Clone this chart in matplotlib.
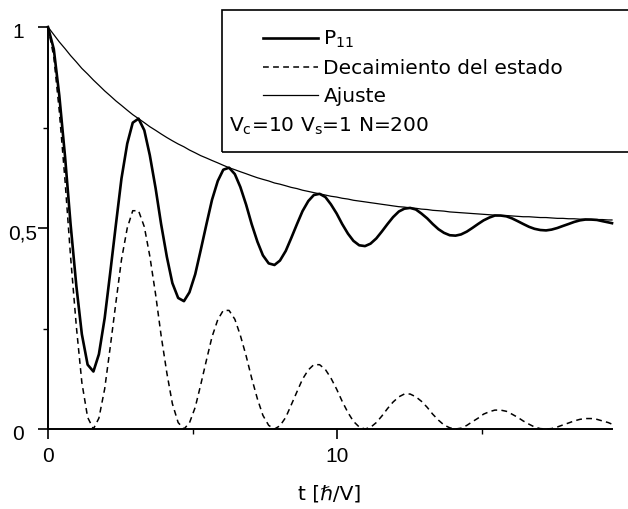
import matplotlib
matplotlib.use("Agg")
import matplotlib.pyplot as plt
from matplotlib.transforms import ScaledTranslation
from matplotlib.patches import Rectangle

plt.rcParams['font.family'] = ['Liberation Sans', 'DejaVu Sans']
plt.rcParams['mathtext.fontset'] = 'custom'
plt.rcParams['mathtext.rm'] = 'DejaVu Sans'
plt.rcParams['mathtext.it'] = 'DejaVu Sans:italic'
plt.rcParams['mathtext.default'] = 'regular'

# ---- data ----
t = [0.00, 0.20, 0.39, 0.59, 0.78, 0.98, 1.17, 1.37, 1.57, 1.76, 1.96, 2.15, 2.35, 2.54, 2.74, 2.93,
     3.13, 3.33, 3.52, 3.72, 3.91, 4.11, 4.30, 4.50, 4.70, 4.89, 5.09, 5.28, 5.48, 5.67, 5.87, 6.06,
     6.26, 6.46, 6.65, 6.85, 7.04, 7.24, 7.43, 7.63, 7.83, 8.02, 8.22, 8.41, 8.61, 8.80, 9.00, 9.19,
     9.39, 9.59, 9.78, 9.98, 10.17, 10.37, 10.56, 10.76, 10.96, 11.15, 11.35, 11.54, 11.74, 11.93, 12.13, 12.32,
     12.52, 12.72, 12.91, 13.11, 13.30, 13.50, 13.69, 13.89, 14.09, 14.28, 14.48, 14.67, 14.87, 15.06, 15.26, 15.45,
     15.65, 15.85, 16.04, 16.24, 16.43, 16.63, 16.82, 17.02, 17.22, 17.41, 17.61, 17.80, 18.00, 18.19, 18.39, 18.58,
     18.78, 18.98, 19.17, 19.37, 19.50]

p11 = [1.000, 0.945, 0.830, 0.677, 0.510, 0.356, 0.236, 0.160, 0.143, 0.186, 0.276, 0.388, 0.510, 0.623, 0.710, 0.762,
       0.772, 0.743, 0.681, 0.599, 0.510, 0.428, 0.363, 0.326, 0.318, 0.340, 0.385, 0.445, 0.510, 0.570, 0.617, 0.645,
       0.650, 0.634, 0.602, 0.558, 0.510, 0.466, 0.432, 0.412, 0.408, 0.419, 0.443, 0.475, 0.510, 0.542, 0.567, 0.582,
       0.585, 0.577, 0.559, 0.536, 0.510, 0.486, 0.468, 0.457, 0.455, 0.461, 0.474, 0.491, 0.510, 0.527, 0.541, 0.548,
       0.550, 0.546, 0.536, 0.524, 0.510, 0.497, 0.488, 0.482, 0.481, 0.484, 0.491, 0.500, 0.510, 0.519, 0.526, 0.531,
       0.531, 0.529, 0.524, 0.517, 0.510, 0.503, 0.498, 0.495, 0.494, 0.496, 0.500, 0.505, 0.510, 0.515, 0.519, 0.521,
       0.521, 0.520, 0.517, 0.514, 0.512]

decay = [1.000, 0.926, 0.791, 0.617, 0.429, 0.255, 0.116, 0.029, 0.000, 0.027, 0.100, 0.203, 0.316, 0.421, 0.500, 0.543,
         0.543, 0.503, 0.430, 0.335, 0.233, 0.139, 0.063, 0.016, 0.000, 0.015, 0.054, 0.110, 0.172, 0.229, 0.272, 0.295,
         0.295, 0.273, 0.233, 0.182, 0.127, 0.075, 0.034, 0.009, 0.000, 0.008, 0.029, 0.060, 0.093, 0.124, 0.147, 0.160,
         0.160, 0.148, 0.127, 0.099, 0.069, 0.041, 0.019, 0.005, 0.000, 0.004, 0.016, 0.032, 0.051, 0.067, 0.080, 0.087,
         0.087, 0.080, 0.069, 0.054, 0.037, 0.022, 0.010, 0.003, 0.000, 0.002, 0.009, 0.018, 0.027, 0.037, 0.043, 0.047,
         0.047, 0.044, 0.037, 0.029, 0.020, 0.012, 0.005, 0.001, 0.000, 0.001, 0.005, 0.010, 0.015, 0.020, 0.024, 0.026,
         0.026, 0.024, 0.020, 0.016, 0.012]

fit = [1.000, 0.981, 0.963, 0.946, 0.929, 0.913, 0.897, 0.883, 0.868, 0.855, 0.841, 0.829, 0.816, 0.805, 0.793, 0.782,
       0.772, 0.762, 0.752, 0.743, 0.734, 0.725, 0.717, 0.709, 0.702, 0.694, 0.687, 0.680, 0.674, 0.668, 0.662, 0.656,
       0.650, 0.645, 0.640, 0.635, 0.630, 0.625, 0.621, 0.617, 0.612, 0.609, 0.605, 0.601, 0.598, 0.594, 0.591, 0.588,
       0.585, 0.582, 0.579, 0.577, 0.574, 0.572, 0.569, 0.567, 0.565, 0.563, 0.561, 0.559, 0.557, 0.555, 0.553, 0.552,
       0.550, 0.549, 0.547, 0.546, 0.544, 0.543, 0.542, 0.540, 0.539, 0.538, 0.537, 0.536, 0.535, 0.534, 0.533, 0.532,
       0.531, 0.531, 0.530, 0.529, 0.528, 0.528, 0.527, 0.526, 0.526, 0.525, 0.524, 0.524, 0.523, 0.523, 0.522, 0.522,
       0.521, 0.521, 0.521, 0.520, 0.520]

series_labels = ['P$_{11}$', 'Decaimiento del estado', 'Ajuste']
param_text = 'V$_{c}$=10 V$_{s}$=1 N=200'
x_major = [0, 10]
x_major_labels = ['0', '10']
x_minor = [5, 15]
y_major = [0, 0.5, 1]
y_major_labels = ['0', '0,5', '1']
y_minor = [0.25, 0.75]
xlabel = 't [ℏ/V]'

# ---- figure ----
W, H = 628, 509
fig = plt.figure(figsize=(W / 100, H / 100), dpi=100)
ax = fig.add_axes([48 / W, 80 / H, 564 / W, 402 / H])

l1, = ax.plot(t, p11, color='black', lw=1.9, clip_on=False, solid_joinstyle='round')
l2, = ax.plot(t, decay, color='black', lw=1.1, clip_on=False, dashes=(3.8, 2.8))
l3, = ax.plot(t, fit, color='black', lw=0.9, clip_on=False)

ax.set_xlim(0, 19.5)
ax.set_ylim(0, 1)
for s in ['top', 'right']:
    ax.spines[s].set_visible(False)
for s in ['left', 'bottom']:
    ax.spines[s].set_linewidth(1.4)

ax.set_xticks(x_major)
ax.set_xticklabels(x_major_labels)
ax.set_xticks(x_minor, minor=True)
ax.set_yticks(y_major)
ax.set_yticklabels(y_major_labels)
ax.set_yticks(y_minor, minor=True)
ax.tick_params(which='major', direction='out', length=7, width=1.2, labelsize=15, colors='black')
ax.tick_params(axis='x', which='major', pad=6)
ax.tick_params(axis='y', which='major', pad=0.5)
ax.tick_params(which='minor', direction='out', length=3.5, width=1.0)

ax.set_xlabel(xlabel, fontsize=14.5, labelpad=13, family=['DejaVu Sans'])

# decimal-aligned y tick labels, slightly lowered
for lab in ax.get_yticklabels():
    dx = 0 if ',' in lab.get_text() else -14
    lab.set_transform(lab.get_transform() + ScaledTranslation(dx / 100, -4 / 100, fig.dpi_scale_trans))

# legend box (extends past the right edge)
fig.patches.append(Rectangle((222 / W, 1 - 152 / H), (700 - 222) / W, 142 / H,
                             transform=fig.transFigure, fill=False, lw=1.2, edgecolor='black'))

leg = ax.legend([l1, l2, l3], series_labels, loc='upper left',
                bbox_to_anchor=(263 / W, 1 - 29 / H), bbox_transform=fig.transFigure,
                frameon=False, prop={'family': 'DejaVu Sans', 'size': 14.5},
                handlelength=2.75, handletextpad=0.25,
                labelspacing=0.45, borderpad=0, borderaxespad=0)

fig.text(229 / W, 1 - 132 / H, param_text, fontsize=14.5, va='baseline', ha='left',
         family=['DejaVu Sans'])

fig.savefig('out.png', dpi=100)
